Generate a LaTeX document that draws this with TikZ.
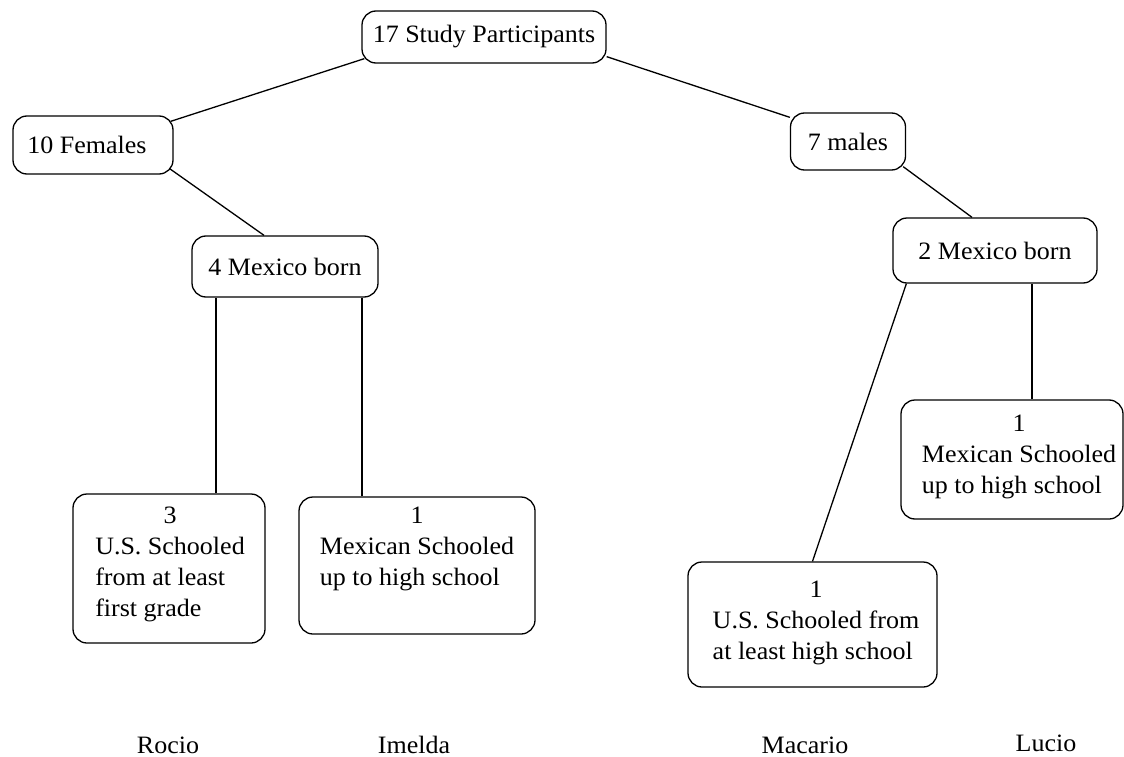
\documentclass[tikz,border=0pt]{standalone}
\usepackage{fontspec}
\setmainfont{Liberation Serif}[FakeStretch=1.04]
\newcommand{\boxlines}[2]{\begin{tabular}{@{}l@{}}\multicolumn{1}{@{}c@{}}{#1}\\#2\end{tabular}}
\begin{document}
\begin{tikzpicture}[x=1pt,y=-1pt,
  box/.style={draw, line width=1.3pt, rounded corners=14pt, inner sep=0pt},
  txt/.style={inner sep=0pt, font=\fontsize{25}{31}\selectfont, align=center},
  conn/.style={line width=1.3pt},
  person/.style={inner sep=0pt, font=\fontsize{25}{31}\selectfont}]
\useasboundingbox (0,0) rectangle (1124,757);
% single-line boxes
\node[box, txt, minimum width=244pt, minimum height=52pt] (root) at (484,37) {17 Study Participants};
\node[box, txt, minimum width=160pt, minimum height=58pt] (fem) at (93,145) {10 Females\hspace{12pt}};
\node[box, txt, minimum width=115pt, minimum height=57pt] (males) at (848,141.5) {7 males};
\node[box, txt, minimum width=186pt, minimum height=61pt] (mexF) at (285,266.5) {4 Mexico born};
\node[box, txt, minimum width=204pt, minimum height=65pt] (mexM) at (995,250.5) {2 Mexico born};
% multi-line boxes
\node[box, minimum width=192pt, minimum height=149pt] (us3) at (169,568.5) {};
\node[txt] (us3t) at (170,563.5) {\boxlines{3}{U.S. Schooled\\from at least\\first grade}};
\node[box, minimum width=236pt, minimum height=137pt] (mexcF) at (417,565.5) {};
\node[txt] (mexcFt) at (417,548) {\boxlines{1}{Mexican Schooled\\up to high school}};
\node[box, minimum width=249pt, minimum height=125pt] (usM) at (812.5,624.5) {};
\node[txt] (usMt) at (816,622) {\boxlines{1}{U.S. Schooled from\\at least high school}};
\node[box, minimum width=222pt, minimum height=119pt] (mexcM) at (1012,459.5) {};
\node[txt] (mexcMt) at (1019,456.5) {\boxlines{1}{Mexican Schooled\\up to high school}};
% connectors
\draw[conn] ([xshift=3pt,yshift=5pt]root.south west) -- ([xshift=-3pt,yshift=-6pt]fem.north east);
\draw[conn] ([yshift=7pt]root.south east) -- ([yshift=-5pt]males.north west);
\draw[conn] ([xshift=-4pt,yshift=6pt]fem.south east) -- ([xshift=-21pt]mexF.north);
\draw[conn] ([xshift=-3pt,yshift=4pt]males.south east) -- ([xshift=-23pt]mexM.north);
\draw[conn] ([xshift=47pt]us3.north) -- ([xshift=47pt]us3.north |- mexF.south);
\draw[conn] ([xshift=-55pt]mexcF.north) -- ([xshift=-55pt]mexcF.north |- mexF.south);
\draw[conn] ([xshift=14pt]mexM.south west) -- (usM.north);
\draw[conn] ([xshift=20pt]mexcM.north) -- ([xshift=20pt]mexcM.north |- mexM.south);
% names
\node[person] (rocio) at (168,745) {Rocio};
\node[person] (imelda) at (414,745) {Imelda};
\node[person] (macario) at (805,745) {Macario};
\node[person] (lucio) at (1046,743) {Lucio};
\end{tikzpicture}
\end{document}
